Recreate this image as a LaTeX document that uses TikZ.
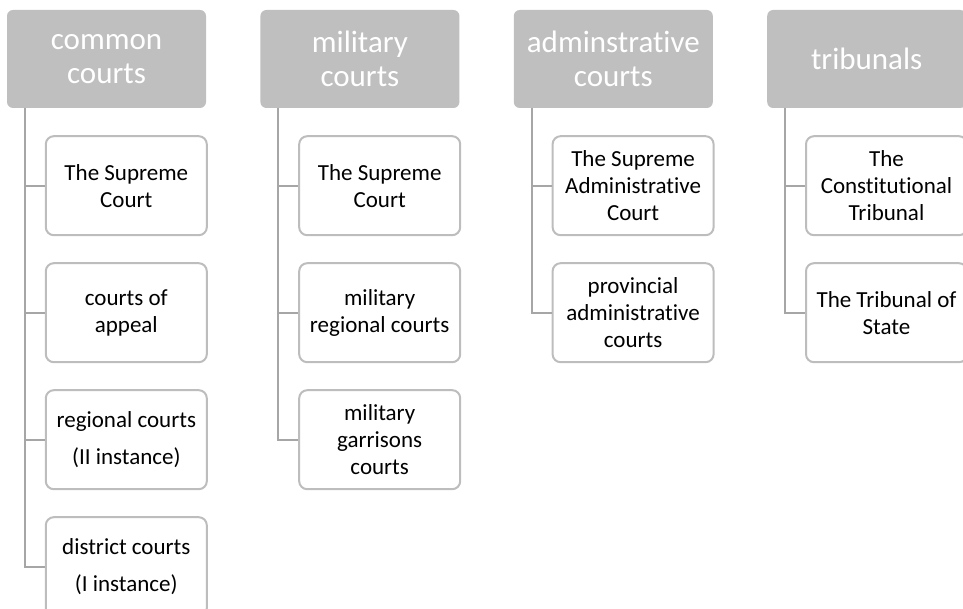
\documentclass[tikz,border=0pt]{standalone}
\usepackage{fontspec}
\setmainfont[Ligatures=NoCommon]{Carlito}
\usepackage{xcolor}
\usetikzlibrary{positioning}
\definecolor{headgray}{HTML}{BFBFBF}
\definecolor{boxgray}{HTML}{BDBDBD}
\definecolor{linegray}{HTML}{A6A6A6}
\tikzset{
  headbox/.style={fill=headgray, rounded corners=6pt, minimum width=199pt,
    minimum height=98pt, align=center, text=white, inner sep=2pt,
    font=\fontsize{31}{34}\selectfont},
  courtbox/.style={draw=boxgray, line width=2pt, fill=white, rounded corners=8pt,
    minimum width=161pt, minimum height=99pt, align=center, inner sep=2pt,
    font=\fontsize{23}{27}\selectfont},
  link/.style={draw=linegray, line width=2pt}
}

\begin{document}
\begin{tikzpicture}[x=1pt, y=-1pt, node distance=26pt]
  \useasboundingbox (0,0) rectangle (963,609);
  % column heads
  \node[headbox] (common) at (106.5,59) {common\\courts};
  \node[headbox, right=54pt of common] (military) {military\\courts};
  \node[headbox, right=54pt of military] (admin) {adminstrative\\courts};
  \node[headbox, right=54pt of admin] (tribunals) {tribunals};

  % common courts
  \node[courtbox, below=27pt of common.south west, anchor=north west, xshift=38pt] (cc1) {The Supreme\\Court};
  \node[courtbox, below=of cc1] (cc2) {courts of\\appeal};
  \node[courtbox, below=of cc2] (cc3) {regional courts\\[10pt](II instance)};
  \node[courtbox, below=of cc3] (cc4) {district courts\\[10pt](I instance)};

  % military courts
  \node[courtbox, below=27pt of military.south west, anchor=north west, xshift=38pt] (mc1) {The Supreme\\Court};
  \node[courtbox, below=of mc1] (mc2) {military\\regional courts};
  \node[courtbox, below=of mc2] (mc3) {military\\garrisons\\courts};

  % administrative courts
  \node[courtbox, below=27pt of admin.south west, anchor=north west, xshift=38pt] (ac1) {The Supreme\\Administrative\\Court};
  \node[courtbox, below=of ac1] (ac2) {provincial\\administrative\\courts};

  % tribunals
  \node[courtbox, below=27pt of tribunals.south west, anchor=north west, xshift=38pt] (tr1) {The\\Constitutional\\Tribunal};
  \node[courtbox, below=of tr1] (tr2) {The Tribunal of\\State};

  % links
  \foreach \c in {cc1,cc2,cc3,cc4}
    \draw[link] ([xshift=18pt]common.south west) |- (\c.west);
  \foreach \c in {mc1,mc2,mc3}
    \draw[link] ([xshift=18pt]military.south west) |- (\c.west);
  \foreach \c in {ac1,ac2}
    \draw[link] ([xshift=18pt]admin.south west) |- (\c.west);
  \foreach \c in {tr1,tr2}
    \draw[link] ([xshift=18pt]tribunals.south west) |- (\c.west);
\end{tikzpicture}
\end{document}
